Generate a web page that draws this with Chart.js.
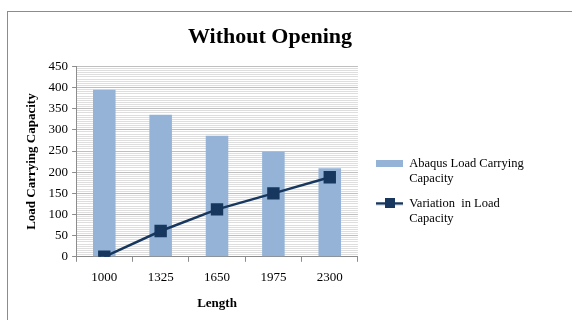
<!DOCTYPE html>
<html lang="en">
<head>
    <meta charset="UTF-8">
    <title>Without Opening</title>
    <style>
        html, body {
            margin: 0;
            padding: 0;
            background: #fff;
            overflow: hidden;
        }
        .frame {
            position: absolute;
            left: 7px;
            top: 11px;
            width: 620px;
            height: 400px;
            border: 1px solid #8c8c8c;
        }
        .chart-box {
            position: absolute;
            left: 0;
            top: 0;
            width: 572px;
            height: 320px;
        }
    </style>
    <script src="https://cdn.jsdelivr.net/npm/chart.js@4.4.1/dist/chart.umd.min.js"></script>
</head>
<body>
<div class="frame"></div>
<div class="chart-box">
    <canvas id="openingChart" width="572" height="320"></canvas>
</div>

<script>
    // values
    const lengths = ['1000', '1325', '1650', '1975', '2300'];
    const abaqusCapacity = [395, 336, 286, 248, 209];
    const loadVariation = [0, 61, 112, 150, 188];
    const barLabel = ['Abaqus Load Carrying  ', 'Capacity'];
    const lineLabel = ['Variation  in Load', 'Capacity'];

    const barColor = '#95b3d7';
    const lineColor = '#17375e';

    // legend swatches (8px empty on the left so they sit off the plot edge)
    function barSwatch() {
        const c = document.createElement('canvas');
        c.width = 35; c.height = 7;
        const g = c.getContext('2d');
        g.fillStyle = barColor;
        g.fillRect(8, 0, 27, 7);
        return c;
    }
    function lineSwatch() {
        const c = document.createElement('canvas');
        c.width = 35; c.height = 10;
        const g = c.getContext('2d');
        g.fillStyle = lineColor;
        g.fillRect(8, 4, 27, 2.5);
        g.fillRect(17, 0, 10, 10);
        return c;
    }

    Chart.defaults.font.family = '"Liberation Serif", "Times New Roman", serif';
    Chart.defaults.font.size = 13;
    Chart.defaults.color = '#000';

    const ctx = document.getElementById('openingChart').getContext('2d');
    new Chart(ctx, {
        type: 'bar',
        data: {
            labels: lengths,
            datasets: [
                {
                    type: 'line',
                    label: lineLabel.join(' '),
                    data: loadVariation,
                    borderColor: lineColor,
                    backgroundColor: lineColor,
                    borderWidth: 2.5,
                    pointStyle: 'rect',
                    pointRadius: 7,
                    pointBackgroundColor: lineColor,
                    pointBorderColor: lineColor,
                    tension: 0,
                    order: 0
                },
                {
                    label: barLabel.join(' '),
                    data: abaqusCapacity,
                    backgroundColor: barColor,
                    barPercentage: 0.4,
                    categoryPercentage: 1,
                    order: 1
                }
            ]
        },
        options: {
            responsive: false,
            animation: false,
            layout: { padding: { left: 0, right: 32, top: 24, bottom: 9 } },
            scales: {
                x: {
                    offset: true,
                    border: { color: '#8c8c8c' },
                    grid: {
                        offset: true,
                        drawOnChartArea: false,
                        tickLength: 5,
                        tickColor: '#8c8c8c'
                    },
                    ticks: { padding: 8 },
                    title: {
                        display: true,
                        text: 'Length',
                        font: { weight: 'bold', size: 13 },
                        padding: { top: 2, bottom: 0 }
                    }
                },
                y: {
                    min: 0,
                    max: 450,
                    border: { color: '#8c8c8c' },
                    grid: {
                        color: c => (c.tick.value % 50 === 0 ? '#bfbfbf' : '#dedede'),
                        tickColor: c => (c.tick.value % 50 === 0 ? '#8c8c8c' : 'rgba(0,0,0,0)'),
                        tickLength: 4,
                        lineWidth: 1
                    },
                    ticks: {
                        stepSize: 5,
                        autoSkip: false,
                        maxTicksLimit: 200,
                        padding: 4,
                        callback: v => (v % 50 === 0 ? v : '')
                    },
                    title: {
                        display: true,
                        text: 'Load Carrying Capacity',
                        font: { weight: 'bold', size: 13 },
                        padding: { top: 24, bottom: 5 }
                    }
                }
            },
            plugins: {
                title: {
                    display: true,
                    text: 'Without Opening',
                    font: { size: 22, weight: 'bold' },
                    color: '#000',
                    padding: { top: 0, bottom: 16 }
                },
                legend: {
                    position: 'right',
                    align: 'start',
                    maxWidth: 220,
                    title: {
                        display: true,
                        text: ' ',
                        font: { size: 12.5 },
                        padding: { top: 108, bottom: 0 }
                    },
                    labels: {
                        usePointStyle: true,
                        pointStyleWidth: 35,
                        boxHeight: 10,
                        padding: 10,
                        font: { size: 12.5 },
                        generateLabels: () => [
                            { text: barLabel, pointStyle: barSwatch(), fillStyle: barColor, strokeStyle: barColor, lineWidth: 0, datasetIndex: 1 },
                            { text: lineLabel, pointStyle: lineSwatch(), fillStyle: lineColor, strokeStyle: lineColor, lineWidth: 0, datasetIndex: 0 }
                        ]
                    }
                },
                tooltip: { enabled: false }
            }
        }
    });
</script>
</body>
</html>
